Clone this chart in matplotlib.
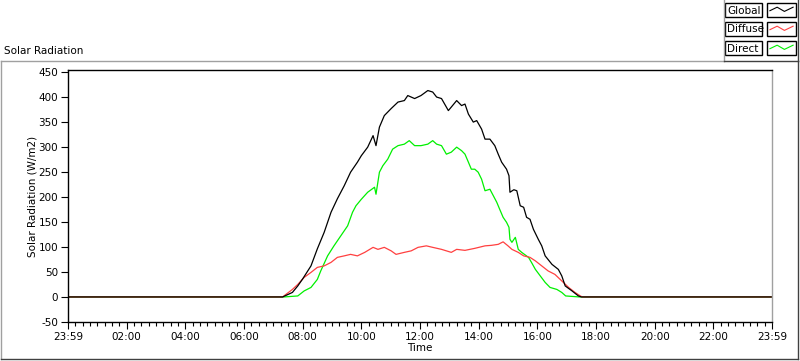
import numpy as np
import matplotlib
matplotlib.use('Agg')
import matplotlib.pyplot as plt
from matplotlib.lines import Line2D
from matplotlib.patches import Rectangle

plt.rcParams['font.family'] = ['DejaVu Sans']
plt.rcParams['axes.unicode_minus'] = False

# 读数：时间 (HH:MM) 和辐射值 (W/m2)，夜间为 0
global_t = ['00:00', '07:19', '07:39', '07:50', '08:00', '08:17', '08:30', '08:44', '08:58', '09:11',
            '09:25', '09:38', '09:52', '10:00', '10:13', '10:24', '10:30', '10:37', '10:47', '11:01',
            '11:15', '11:28', '11:35', '11:49', '12:02', '12:16', '12:26', '12:34', '12:44', '12:58',
            '13:04', '13:15', '13:25', '13:32', '13:39', '13:49', '13:56', '14:06', '14:13', '14:23',
            '14:33', '14:40', '14:47', '14:57', '15:02', '15:04', '15:12', '15:18', '15:25', '15:32',
            '15:38', '15:45', '15:52', '16:02', '16:09', '16:16', '16:30', '16:43', '16:50', '16:57',
            '17:11', '17:24', '17:30', '24:00']
global_v = [0, 0, 9, 22, 36, 62, 96, 129, 169, 196,
            222, 249, 269, 282, 299, 322, 302, 339, 362, 376,
            389, 392, 402, 396, 402, 412, 409, 399, 396, 372,
            379, 392, 382, 385, 365, 349, 352, 335, 315, 315,
            302, 285, 269, 255, 242, 209, 214, 212, 182, 179,
            159, 155, 135, 115, 102, 82, 65, 55, 42, 22,
            12, 2, 0, 0]

diffuse_t = ['00:00', '07:19', '07:39', '07:50', '08:03', '08:17', '08:30', '08:44', '08:58', '09:11',
             '09:25', '09:38', '09:52', '10:07', '10:24', '10:34', '10:47', '11:01', '11:11', '11:28',
             '11:42', '11:56', '12:13', '12:26', '12:44', '13:04', '13:15', '13:32', '13:52', '14:13',
             '14:26', '14:40', '14:50', '15:00', '15:08', '15:21', '15:32', '15:45', '15:56', '16:09',
             '16:22', '16:36', '16:50', '17:04', '17:17', '17:28', '17:32', '24:00']
diffuse_v = [0, 0, 15, 25, 39, 49, 59, 62, 69, 79,
             82, 85, 82, 89, 99, 95, 99, 92, 85, 89,
             92, 99, 102, 99, 95, 89, 95, 93, 97, 102,
             103, 105, 110, 102, 95, 89, 82, 79, 72, 62,
             52, 45, 32, 19, 9, 2, 0, 0]

direct_t = ['00:00', '07:22', '07:50', '08:03', '08:17', '08:30', '08:37', '08:51', '09:04', '09:18',
            '09:32', '09:42', '09:49', '10:00', '10:13', '10:27', '10:30', '10:37', '10:44', '10:54',
            '11:04', '11:15', '11:28', '11:38', '11:49', '12:02', '12:16', '12:26', '12:34', '12:44',
            '12:54', '13:04', '13:15', '13:25', '13:32', '13:39', '13:45', '13:52', '13:59', '14:06',
            '14:13', '14:23', '14:30', '14:37', '14:43', '14:50', '14:57', '15:02', '15:04', '15:08',
            '15:15', '15:21', '15:28', '15:42', '15:48', '15:56', '16:06', '16:16', '16:26', '16:40',
            '16:50', '16:58', '17:26', '24:00']
direct_v = [0, 0, 2, 12, 19, 35, 52, 82, 102, 122,
            142, 169, 182, 195, 209, 219, 205, 249, 262, 275,
            295, 302, 305, 312, 302, 302, 305, 312, 305, 302,
            285, 289, 299, 292, 285, 269, 255, 255, 249, 235,
            212, 215, 202, 189, 175, 159, 149, 139, 115, 109,
            119, 95, 89, 79, 69, 55, 42, 29, 19, 15,
            9, 2, 0, 0]

x_ticks = [0, 120, 240, 360, 480, 600, 720, 840, 960, 1080, 1200, 1320, 1440]
x_labels = ['23:59', '02:00', '04:00', '06:00', '08:00', '10:00', '12:00',
            '14:00', '16:00', '18:00', '20:00', '22:00', '23:59']
y_ticks = [-50, 0, 50, 100, 150, 200, 250, 300, 350, 400, 450]

series = [('Global', global_t, global_v, 'black'),
          ('Diffuse', diffuse_t, diffuse_v, '#ff4040'),
          ('Direct', direct_t, direct_v, '#00f000')]


def to_minutes(times):
    return [int(t.split(':')[0]) * 60 + int(t.split(':')[1]) for t in times]


fig = plt.figure(figsize=(8, 3.61), dpi=100)
fig.patch.set_facecolor('white')
ax = fig.add_axes([68 / 800, 1 - 322 / 361, 704 / 800, 252 / 361])

# Global 画在最上面
for name, t, v, c in series[::-1]:
    ax.plot(to_minutes(t), v, color=c, lw=0.9)

ax.set_xlim(0, 1440)
ax.set_ylim(-50, 453)
ax.set_xticks(x_ticks)
ax.set_xticklabels(x_labels)
ax.set_xticks(np.arange(0, 1441, 15), minor=True)
ax.set_yticks(y_ticks)
ax.tick_params(axis='both', which='major', direction='out', length=5, width=0.8, labelsize=7.5, pad=2)
ax.tick_params(axis='x', which='minor', direction='out', length=3, width=0.8)
for s in ['left', 'bottom', 'top']:
    ax.spines[s].set_color('black')
    ax.spines[s].set_linewidth(1)
ax.spines['right'].set_color('#a0a0a0')
ax.spines['right'].set_linewidth(1)

ax.set_xlabel('Time', fontsize=7.5, labelpad=1)
ax.set_ylabel('Solar Radiation (W/m2)', fontsize=7.5, labelpad=1)

# 外框：上、左灰色，下、右深色
W, H = 800, 361
def fline(x0, y0, x1, y1, c):
    fig.add_artist(Line2D([x0 / W, x1 / W], [1 - y0 / H, 1 - y1 / H], color=c, lw=1))

fline(1, 61, 724, 61, '#a0a0a0')
fline(1, 61, 1, 359, '#a0a0a0')
fline(1, 359, 798, 359, '#404040')
fline(798, 61, 798, 359, '#404040')
fline(724, 0, 724, 61, '#a0a0a0')
fline(724, 61, 798, 61, '#404040')
fline(798, 0, 798, 61, '#404040')

fig.text(4 / W, 1 - 51 / H, 'Solar Radiation', fontsize=7.5, va='center', ha='left')

# 图例
zig_x = np.array([0.1, 0.35, 0.6, 0.9])
zig_y = np.array([0.45, 0.7, 0.4, 0.7])
for i, (name, t, v, c) in enumerate(series):
    top = 3 + i * 19
    fig.add_artist(Rectangle((725 / W, 1 - (top + 14) / H), 37 / W, 14 / H,
                             fill=False, edgecolor='black', lw=1))
    fig.text(727 / W, 1 - (top + 7.5) / H, name, fontsize=7.5, va='center', ha='left')
    fig.add_artist(Rectangle((767 / W, 1 - (top + 14) / H), 29 / W, 14 / H,
                             fill=False, edgecolor='black', lw=1))
    fig.add_artist(Line2D((767 + zig_x * 29) / W, 1 - (top + 14 - zig_y * 14) / H, color=c, lw=0.8))

fig.savefig('out.png', dpi=100)
